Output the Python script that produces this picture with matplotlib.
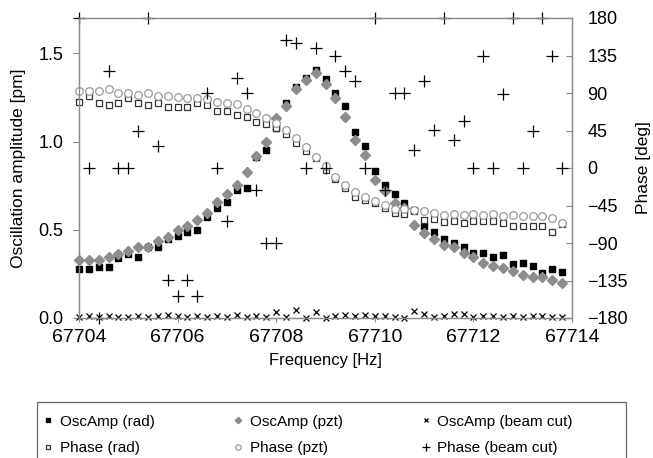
import numpy as np
import matplotlib
matplotlib.use("Agg")
import matplotlib.pyplot as plt
from matplotlib.patches import Rectangle

plt.rcParams['font.family'] = ['Liberation Sans', 'DejaVu Sans']

# frequency sweep, 0.2 Hz steps
freq = 67704 + 0.2 * np.arange(50)

amp_rad = [0.278, 0.28, 0.29, 0.29, 0.34, 0.36, 0.345, 0.40, 0.405, 0.447,
           0.462, 0.49, 0.496, 0.575, 0.623, 0.66, 0.727, 0.737, 0.915, 0.95,
           1.078, 1.216, 1.31, 1.362, 1.405, 1.352, 1.273, 1.20, 1.055, 0.977,
           0.831, 0.756, 0.705, 0.65, 0.614, 0.523, 0.49, 0.447, 0.424, 0.405,
           0.371, 0.371, 0.345, 0.358, 0.307, 0.314, 0.295, 0.254, 0.277, 0.258]
amp_pzt = [0.33, 0.33, 0.33, 0.345, 0.364, 0.382, 0.405, 0.405, 0.434, 0.458,
           0.496, 0.523, 0.557, 0.595, 0.655, 0.70, 0.755, 0.826, 0.917, 0.996,
           1.135, 1.20, 1.30, 1.347, 1.386, 1.324, 1.244, 1.14, 1.011, 0.926,
           0.78, 0.718, 0.652, 0.625, 0.528, 0.481, 0.447, 0.415, 0.405, 0.367,
           0.345, 0.314, 0.292, 0.282, 0.269, 0.244, 0.231, 0.235, 0.216, 0.20]
amp_cut = [0.005, 0.01, 0.005, 0.01, 0.005, 0.005, 0.01, 0.005, 0.01, 0.015,
           0.01, 0.005, 0.01, 0.005, 0.01, 0.005, 0.015, 0.005, 0.01, 0.005,
           0.035, 0.005, 0.045, 0.0, 0.035, 0.0, 0.01, 0.015, 0.01, 0.015,
           0.01, 0.01, 0.005, 0.0, 0.04, 0.02, 0.005, 0.01, 0.02, 0.02,
           0.005, 0.01, 0.01, 0.005, 0.01, 0.005, 0.01, 0.01, 0.005, 0.005]

ph_rad = [79.6, 86.4, 77.6, 75.2, 77.6, 83.6, 77.6, 75.2, 78.4, 72.8,
          73.6, 73.6, 78.4, 75.2, 68.4, 68.4, 63.6, 61.6, 55.6, 52.8,
          47.6, 40.4, 30.4, 20.6, 11.6, -2.4, -13.6, -24.4, -34.4, -38.4,
          -41.6, -48.4, -53.6, -55.2, -51.2, -62.4, -61.6, -65, -63.6, -66.4,
          -63.6, -63.6, -63.6, -66.4, -69.6, -69.6, -69.6, -69.6, -76.4, -67.2]
ph_pzt = [92.8, 92.8, 92.8, 94.4, 90.4, 89.6, 87.6, 89.6, 86.4, 86.4,
          85.4, 84.4, 83.6, 83, 79.6, 78.6, 76.8, 70.4, 65.6, 59.6,
          54, 45.6, 35.6, 25.6, 13.6, 2, -10.4, -20.4, -28.4, -34.4,
          -40, -44.4, -49.6, -49.6, -50.4, -51.6, -53.6, -56, -55, -56,
          -55, -56, -55, -57, -56, -57, -58, -57, -60, -66]
ph_cut = [180, 0, -180, 116, 0, 0, 45, 180, 27, -134,
          -153, -134, -153, 90, 0, -64, 108, 90, -26, -90,
          -90, 154, 150, 0, 144, 0, 134, 117, 104, 0,
          180, -26, 90, 90, 22, 104, 46, 180, 34, 56,
          0, 135, 0, 89, 180, 0, 44, 180, 135, 0]

W, H = 653, 458
fig = plt.figure(figsize=(W / 100, H / 100), dpi=100)
ax = fig.add_axes([79 / W, 1 - 318 / H, (572 - 79) / W, 300 / H])
ax2 = ax.twinx()

grey_spine = '#8a8a8a'
l1, = ax.plot(freq, amp_rad, ls='none', marker='s', ms=5, color='black', clip_on=False)
l2, = ax.plot(freq, amp_pzt, ls='none', marker='D', ms=4.6, color='#8c8c8c', clip_on=False)
l3, = ax.plot(freq, amp_cut, ls='none', marker='x', ms=5, mew=0.9, color='black', clip_on=False)
l4, = ax2.plot(freq, ph_rad, ls='none', marker='s', ms=5, mfc='white', mec='#333333', mew=0.9, clip_on=False)
l5, = ax2.plot(freq, ph_pzt, ls='none', marker='o', ms=5.5, mfc='white', mec='#9a9a9a', mew=0.9, clip_on=False)
l6, = ax2.plot(freq, ph_cut, ls='none', marker='+', ms=9, mew=0.9, color='black', clip_on=False)

ax.set_xlim(67704, 67714)
ax.set_ylim(0, 1.7)
ax2.set_ylim(-180, 180)
ax.set_xticks(np.arange(67704, 67715, 2))
ax.set_xticklabels([str(v) for v in range(67704, 67715, 2)])
ax.set_yticks([0, 0.5, 1.0, 1.5])
ax.set_yticklabels(['0.0', '0.5', '1.0', '1.5'])
ax2.set_yticks(np.arange(-180, 181, 45))

for a in (ax, ax2):
    for s in a.spines.values():
        s.set_color(grey_spine)
        s.set_linewidth(0.9)

ax.tick_params(axis='x', direction='out', length=3, color=grey_spine, pad=5, labelsize=14)
ax.tick_params(axis='y', direction='out', length=4, color=grey_spine, pad=7, labelsize=13)
ax2.tick_params(axis='y', direction='in', length=4, color=grey_spine, pad=11, labelsize=13)

ax.set_xlabel('Frequency [Hz]', fontsize=12, labelpad=5)
ax.set_ylabel('Oscillation amplitude [pm]', fontsize=12.5, labelpad=9)
ax2.set_ylabel('Phase [deg]', fontsize=12.5, labelpad=6)

# legend: column-major order so rows read amp / phase
handles = [l1, l4, l2, l5, l3, l6]
labels = ['OscAmp (rad)', 'Phase (rad)', 'OscAmp (pzt)', 'Phase (pzt)',
          'OscAmp (beam cut)', 'Phase (beam cut)']
fig.legend(handles, labels, ncol=3, loc='upper left',
           bbox_to_anchor=(37 / W, 1 - 407 / H), bbox_transform=fig.transFigure,
           frameon=False, fontsize=11, handlelength=0.5, handletextpad=0.5,
           columnspacing=5.2, borderpad=0, labelspacing=0.8, markerscale=0.7)
fig.patches.append(Rectangle((37 / W, -0.05), 589 / W, (1 - 402 / H) + 0.05,
                             transform=fig.transFigure, fill=False,
                             edgecolor='#666666', linewidth=0.9))

fig.savefig('out.png', dpi=100)
